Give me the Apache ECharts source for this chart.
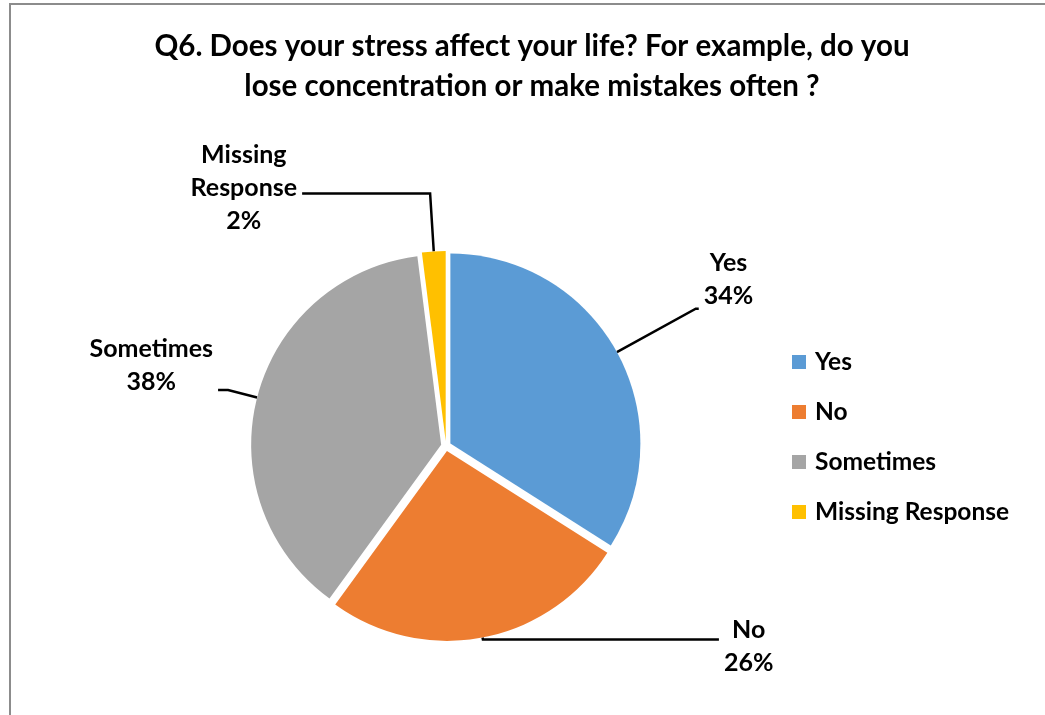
<!DOCTYPE html>
<html>
<head>
<meta charset="utf-8">
<script src="https://cdn.jsdelivr.net/npm/echarts@6/dist/echarts.min.js"></script>
<style>
html,body{margin:0;padding:0;background:#fff;}
#chart{width:1045px;height:715px;}
</style>
</head>
<body>
<div id="chart"></div>
<script>
var categories = ['Yes', 'No', 'Sometimes', 'Missing Response'];
var percents = [34, 26, 38, 2];
var colors = ['#5B9BD5', '#ED7D31', '#A5A5A5', '#FFC000'];
var titleText = 'Q6. Does your stress affect your life? For example, do you\nlose concentration or make mistakes often ?';

// label leader-line styling per category (layout only)
var labelTweaks = {
  'Yes': {length: 90, length2: 3, padding: [0, 0, 58, 0]},
  'No': {length: 2, length2: 236, padding: [14, 0, 0, 0]},
  'Sometimes': {length: 30, length2: 10, padding: [0, 0, 50, 0]},
  'Missing Response': {length: 58, length2: 128, padding: [0, 0, 12, 0]}
};

var FONT = 'Lato, "Open Sans", sans-serif';
var chart = echarts.init(document.getElementById('chart'), null, {renderer: 'canvas'});

var data = categories.map(function (name, i) {
  var t = labelTweaks[name];
  return {
    name: name,
    value: percents[i],
    selected: true,
    itemStyle: {color: colors[i]},
    label: {padding: t.padding},
    labelLine: {length: t.length, length2: t.length2}
  };
});

chart.setOption({
  backgroundColor: '#ffffff',
  animation: false,
  graphic: [{
    type: 'rect',
    shape: {x: 10, y: 4, width: 1200, height: 900},
    style: {fill: 'none', stroke: '#8c8c8c', lineWidth: 2},
    silent: true
  }],
  title: {
    text: titleText,
    left: 532,
    top: 26,
    textAlign: 'center',
    padding: 0,
    textStyle: {fontFamily: FONT, fontWeight: 'bold', fontSize: 29.5, lineHeight: 40, color: '#000'}
  },
  legend: {
    orient: 'vertical',
    left: 792,
    top: 349,
    padding: 0,
    itemWidth: 14,
    itemHeight: 14,
    itemGap: 24,
    icon: 'rect',
    selectedMode: false,
    textStyle: {fontFamily: FONT, fontWeight: 'bold', fontSize: 24.5, lineHeight: 26, color: '#000', padding: [0, 0, 0, 4]},
    data: categories
  },
  series: [{
    type: 'pie',
    center: [446, 446],
    radius: 190,
    startAngle: 90,
    clockwise: true,
    selectedMode: 'multiple',
    selectedOffset: 5,
    avoidLabelOverlap: false,
    emphasis: {disabled: true},
    itemStyle: {borderWidth: 0},
    label: {
      show: true,
      position: 'outside',
      color: '#000',
      formatter: function (p) {
        var lines = p.name.split(' ').concat([p.value + '%']);
        return lines.map(function (s) { return '{c|' + s + '}'; }).join('\n');
      },
      rich: {
        c: {align: 'center', fontFamily: FONT, fontWeight: 'bold', fontSize: 25, lineHeight: 33, color: '#000'}
      }
    },
    labelLine: {show: true, smooth: false, lineStyle: {color: '#000', width: 2.5}},
    data: data
  }]
});
</script>
</body>
</html>
